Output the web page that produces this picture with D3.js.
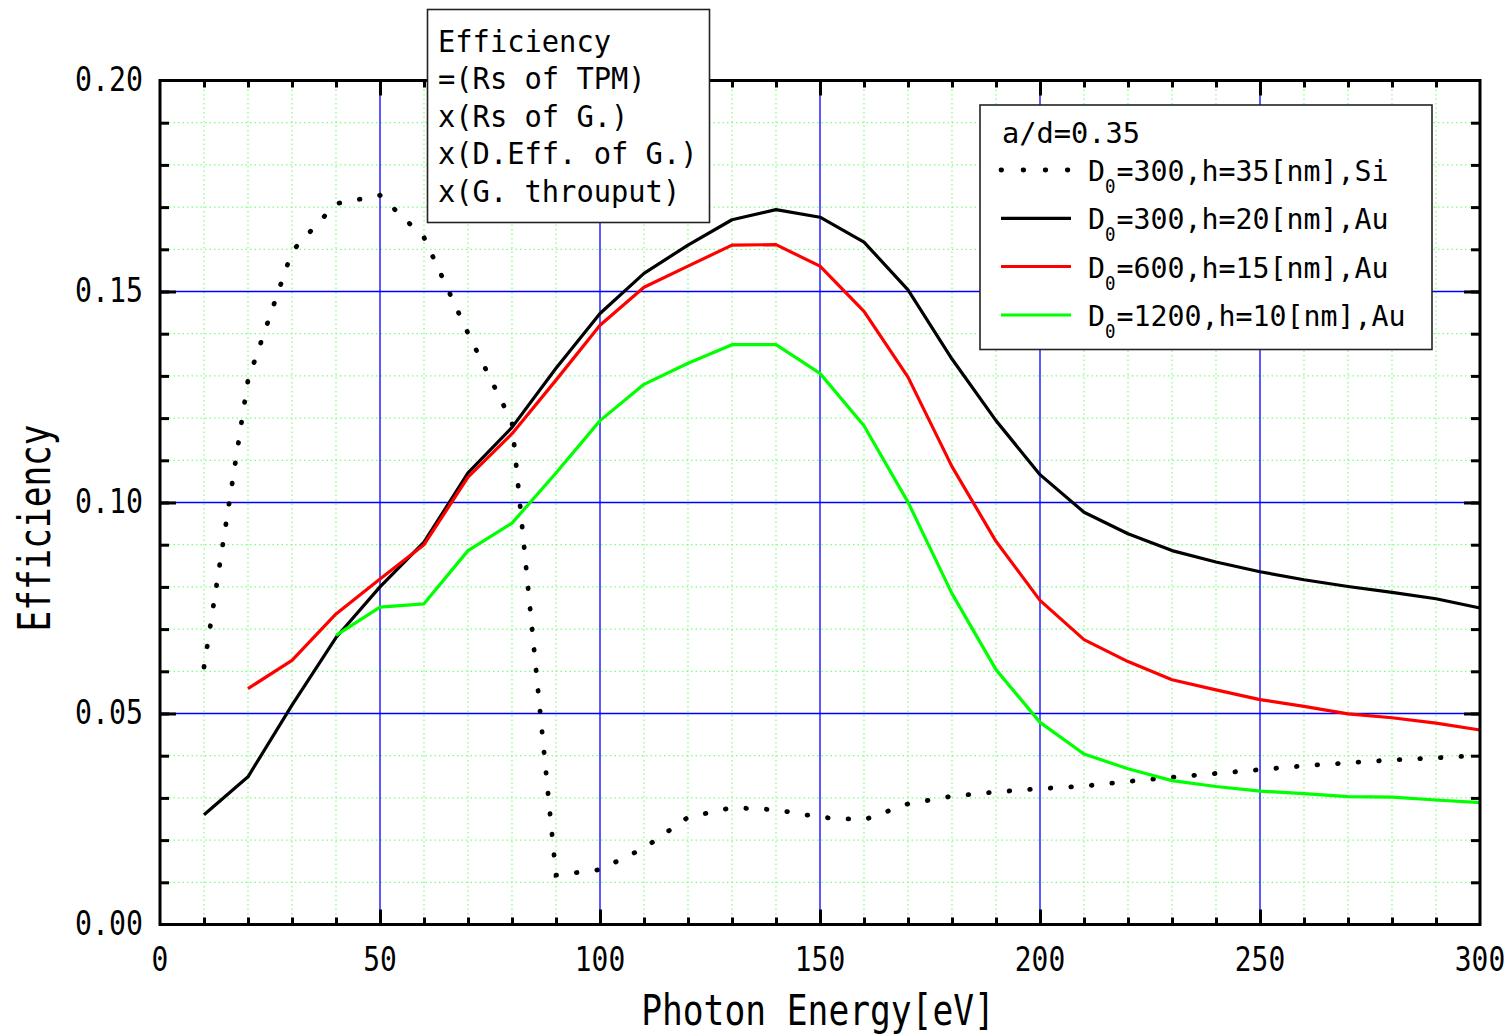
<!DOCTYPE html>
<html>
<head>
<meta charset="utf-8">
<script src="https://cdn.jsdelivr.net/npm/d3@7"></script>
<style>
  html, body { margin: 0; padding: 0; background: #fff; }
  svg { display: block; }
  text { font-family: "DejaVu Sans Mono", "Liberation Mono", monospace; fill: #000; }
</style>
</head>
<body>
<svg id="chart" width="1511" height="1036"></svg>
<script>
// ---------------- data ----------------
const energySi = [10,20,30,40,50,60,70,80,90,100,110,120,130,140,150,160,170,180,190,200,210,220,230,240,250,260,270,280,290,300];
const effSi = [0.061,0.129,0.1595,0.1708,0.1728,0.1628,0.1401,0.119,0.0117,0.0130,0.0181,0.0254,0.0277,0.0272,0.0254,0.0248,0.0286,0.0304,0.0314,0.0322,0.0328,0.0339,0.0349,0.0358,0.0367,0.0376,0.0383,0.0390,0.0395,0.0401];

const energyAu300 = [10,20,30,40,50,60,70,80,90,100,110,120,130,140,150,160,170,180,190,200,210,220,230,240,250,260,270,280,290,300];
const effAu300 = [0.026,0.035,0.052,0.068,0.080,0.0906,0.107,0.1178,0.1318,0.1448,0.1543,0.161,0.167,0.1694,0.1676,0.1617,0.1504,0.134,0.1194,0.1066,0.0977,0.0926,0.0886,0.0859,0.0836,0.0817,0.0801,0.0787,0.0772,0.075];

const energyAu600 = [20,30,40,50,60,70,80,90,100,110,120,130,140,150,160,170,180,190,200,210,220,230,240,250,260,270,280,290,300];
const effAu600 = [0.0559,0.0626,0.0736,0.0819,0.090,0.106,0.1163,0.129,0.142,0.151,0.156,0.161,0.1611,0.156,0.1453,0.1297,0.1085,0.0908,0.0768,0.0675,0.0623,0.058,0.0556,0.0533,0.0517,0.0499,0.049,0.0477,0.0461];

const energyAu1200 = [40,50,60,70,80,90,100,110,120,130,140,150,160,170,180,190,200,210,220,230,240,250,260,270,280,290,300];
const effAu1200 = [0.0685,0.0752,0.076,0.0886,0.0951,0.107,0.1194,0.128,0.133,0.1374,0.1374,0.1306,0.1182,0.1001,0.0784,0.0604,0.0479,0.0404,0.0369,0.0341,0.0327,0.0316,0.031,0.0303,0.0302,0.0295,0.0289];

const xTickValues = [0,50,100,150,200,250,300];
const xTickLabels = ["0","50","100","150","200","250","300"];
const yTickValues = [0,0.05,0.10,0.15,0.20];
const yTickLabels = ["0.00","0.05","0.10","0.15","0.20"];

const legendTitle = "a/d=0.35";
const legendRest = ["=300,h=35[nm],Si","=300,h=20[nm],Au","=600,h=15[nm],Au","=1200,h=10[nm],Au"];
const noteLines = ["Efficiency","=(Rs of TPM)","x(Rs of G.)","x(D.Eff. of G.)","x(G. throuput)"];
const xTitle = "Photon Energy[eV]";
const yTitle = "Efficiency";

// ---------------- layout ----------------
const svg = d3.select("#chart");
const L = 160, R = 1480, T = 80.5, B = 924.5;
const x = d3.scaleLinear().domain([0,300]).range([L,R]);
const y = d3.scaleLinear().domain([0,0.2]).range([B,T]);

function mono(g, str, px, py, size, adv, anchor) {
  const w = str.length * adv;
  const x0 = anchor === "middle" ? px - w/2 : anchor === "end" ? px - w : px;
  return g.append("text").attr("x", x0).attr("y", py)
    .attr("font-size", size)
    .attr("textLength", w).attr("lengthAdjust", "spacingAndGlyphs")
    .text(str);
}

const minorX = d3.range(10, 300, 10).filter(v => v % 50 !== 0);
const minorY = d3.range(1, 20).map(i => i/100).filter((v,i) => (i+1) % 5 !== 0);
const majorXInner = [50,100,150,200,250];
const majorYInner = [0.05,0.10,0.15];

// minor grid
const grid = svg.append("g");
grid.selectAll(".gx").data(minorX).join("line")
  .attr("x1", d => x(d)).attr("x2", d => x(d)).attr("y1", T).attr("y2", B)
  .attr("stroke", "#7dff7d").attr("stroke-width", 1.2).attr("stroke-dasharray", "1.5 3");
grid.selectAll(".gy").data(minorY).join("line")
  .attr("y1", d => y(d)).attr("y2", d => y(d)).attr("x1", L).attr("x2", R)
  .attr("stroke", "#7dff7d").attr("stroke-width", 1.2).attr("stroke-dasharray", "1.5 3");
// major grid
grid.selectAll(".Gx").data(majorXInner).join("line")
  .attr("x1", d => x(d)).attr("x2", d => x(d)).attr("y1", T).attr("y2", B)
  .attr("stroke", "#0000ff").attr("stroke-width", 1.3);
grid.selectAll(".Gy").data(majorYInner).join("line")
  .attr("y1", d => y(d)).attr("y2", d => y(d)).attr("x1", L).attr("x2", R)
  .attr("stroke", "#0000ff").attr("stroke-width", 1.3);

// ---------------- series ----------------
const line = d3.line().x(d => x(d[0])).y(d => y(d[1]));
const plot = svg.append("g");
plot.append("path").datum(d3.zip(energySi, effSi)).attr("d", line)
  .attr("fill", "none").attr("stroke", "#000").attr("stroke-width", 4.8)
  .attr("stroke-linecap", "round").attr("stroke-dasharray", "0.6 20");
plot.append("path").datum(d3.zip(energyAu300, effAu300)).attr("d", line)
  .attr("fill", "none").attr("stroke", "#000").attr("stroke-width", 3.2).attr("stroke-linejoin", "round");
plot.append("path").datum(d3.zip(energyAu600, effAu600)).attr("d", line)
  .attr("fill", "none").attr("stroke", "#ff0000").attr("stroke-width", 3.2).attr("stroke-linejoin", "round");
plot.append("path").datum(d3.zip(energyAu1200, effAu1200)).attr("d", line)
  .attr("fill", "none").attr("stroke", "#00ff00").attr("stroke-width", 3.2).attr("stroke-linejoin", "round");

// ---------------- axes (ticks inward) ----------------
function styleAxis(g) {
  g.select(".domain").remove();
  g.selectAll(".tick line").attr("stroke", "#000").attr("stroke-width", 3);
  g.selectAll(".tick text").remove();
}
const minorXall = d3.range(10, 300, 10);
const minorYall = d3.range(1, 20).map(i => i/100);
svg.append("g").attr("transform", `translate(0,${B})`)
  .call(d3.axisBottom(x).tickValues(minorXall).tickSize(-7).tickFormat("")).call(styleAxis);
svg.append("g").attr("transform", `translate(0,${B})`)
  .call(d3.axisBottom(x).tickValues(majorXInner).tickSize(-15).tickFormat("")).call(styleAxis);
svg.append("g").attr("transform", `translate(0,${T})`)
  .call(d3.axisTop(x).tickValues(minorXall).tickSize(-7).tickFormat("")).call(styleAxis);
svg.append("g").attr("transform", `translate(0,${T})`)
  .call(d3.axisTop(x).tickValues(majorXInner).tickSize(-15).tickFormat("")).call(styleAxis);
svg.append("g").attr("transform", `translate(${L},0)`)
  .call(d3.axisLeft(y).tickValues(minorYall).tickSize(-9).tickFormat("")).call(styleAxis);
svg.append("g").attr("transform", `translate(${L},0)`)
  .call(d3.axisLeft(y).tickValues(majorYInner).tickSize(-16).tickFormat("")).call(styleAxis);
svg.append("g").attr("transform", `translate(${R},0)`)
  .call(d3.axisRight(y).tickValues(minorYall).tickSize(-9).tickFormat("")).call(styleAxis);
svg.append("g").attr("transform", `translate(${R},0)`)
  .call(d3.axisRight(y).tickValues(majorYInner).tickSize(-16).tickFormat("")).call(styleAxis);

// frame
svg.append("rect").attr("x", L).attr("y", T).attr("width", R - L).attr("height", B - T)
  .attr("fill", "none").attr("stroke", "#000").attr("stroke-width", 3);

// tick labels
const labels = svg.append("g");
yTickValues.forEach((v, i) => mono(labels, yTickLabels[i], 143, y(v) + 10.5, 34, 17, "end"));
xTickValues.forEach((v, i) => mono(labels, xTickLabels[i], x(v), 971, 34, 16.8, "middle"));

// axis titles
mono(labels, xTitle, 818, 1025, 43, 20.8, "middle");
const yt = svg.append("g").attr("transform", "translate(50,528) rotate(-90)");
mono(yt, yTitle, 0, 0, 44, 20.7, "middle");

// ---------------- note box ----------------
const note = svg.append("g");
note.append("rect").attr("x", 427.5).attr("y", 9.5).attr("width", 282).attr("height", 213)
  .attr("fill", "#fff").attr("stroke", "#222").attr("stroke-width", 1.6);
const noteBase = [51.7, 88.7, 126.5, 163.5, 201.5];
noteLines.forEach((s, i) => mono(note, s, 438, noteBase[i], 30, 17.3, "start"));

// ---------------- legend ----------------
const leg = svg.append("g");
leg.append("rect").attr("x", 980).attr("y", 105).attr("width", 452).attr("height", 244.5)
  .attr("fill", "#fff").attr("stroke", "#222").attr("stroke-width", 1.6);
mono(leg, legendTitle, 1002, 143.3, 28, 17.25, "start");
const rowY = [170, 218.3, 266.5, 315];
const styles = [
  {stroke: "#000", dash: "0.6 21.5", w: 4.8},
  {stroke: "#000", dash: null, w: 3.2},
  {stroke: "#ff0000", dash: null, w: 3.2},
  {stroke: "#00ff00", dash: null, w: 3.2}
];
rowY.forEach((ry, i) => {
  const st = styles[i];
  const ln = leg.append("line").attr("x1", 1001).attr("x2", 1071).attr("y1", ry).attr("y2", ry)
    .attr("stroke", st.stroke).attr("stroke-width", st.w).attr("stroke-linecap", st.dash ? "round" : "butt");
  if (st.dash) ln.attr("stroke-dasharray", st.dash);
  mono(leg, "D", 1088, ry + 11, 28, 17, "start");
  mono(leg, "0", 1105, ry + 23, 20, 10.5, "start");
  mono(leg, legendRest[i], 1116.5, ry + 11, 28, 17, "start");
});
</script>
</body>
</html>
